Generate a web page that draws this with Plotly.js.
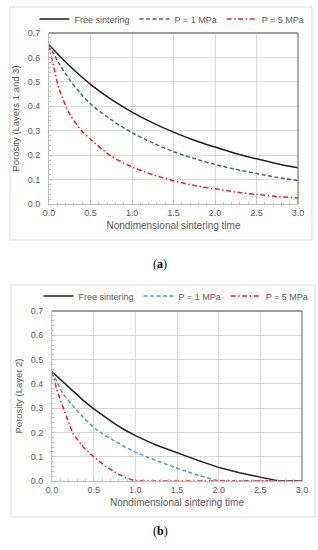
<!DOCTYPE html>
<html><head><meta charset="utf-8">
<script src="https://cdn.plot.ly/plotly-3.0.1.min.js"></script>
<style>html,body{margin:0;padding:0;background:#fff;}#chart{width:318px;height:550px;}</style>
</head><body><div id="chart"></div>
<script>
// ---- data ----
const seriesNames = ['Free sintering', 'P = 1 MPa', 'P = 5 MPa'];
const xTickVals = [0, 0.5, 1.0, 1.5, 2.0, 2.5, 3.0];
const yTickVals = [0, 0.1, 0.2, 0.3, 0.4, 0.5, 0.6, 0.7];

// (a) Layers 1 and 3
const timeA = [0, 0.125, 0.25, 0.375, 0.5, 0.75, 1.0, 1.25, 1.5, 1.75, 2.0, 2.25, 2.5, 2.75, 3.0];
const freeA = [0.652, 0.607, 0.565, 0.526, 0.49, 0.428, 0.376, 0.332, 0.294, 0.261, 0.233, 0.207, 0.185, 0.165, 0.148];
const p1A   = [0.652, 0.573, 0.508, 0.455, 0.41, 0.345, 0.292, 0.25, 0.214, 0.186, 0.162, 0.142, 0.125, 0.109, 0.096];
const p5A   = [0.652, 0.468, 0.368, 0.307, 0.265, 0.196, 0.152, 0.12, 0.095, 0.076, 0.062, 0.049, 0.039, 0.031, 0.025];

// (b) Layer 2
const timeFreeB = [0, 0.125, 0.25, 0.375, 0.5, 0.625, 0.75, 0.875, 1.0, 1.25, 1.5, 1.75, 2.0, 2.25, 2.5, 2.72, 3.0];
const freeB     = [0.45, 0.41, 0.37, 0.332, 0.297, 0.265, 0.236, 0.21, 0.187, 0.148, 0.116, 0.085, 0.056, 0.034, 0.016, 0.0, 0.0];
const timeP1B   = [0, 0.125, 0.25, 0.375, 0.5, 0.625, 0.75, 0.875, 1.0, 1.25, 1.5, 1.75, 2.0, 3.0];
const p1B       = [0.45, 0.362, 0.31, 0.262, 0.22, 0.19, 0.165, 0.14, 0.119, 0.084, 0.053, 0.024, 0.0, 0.0];
const timeP5B   = [0, 0.0625, 0.125, 0.25, 0.375, 0.5, 0.625, 0.75, 0.875, 1.0, 3.0];
const p5B       = [0.45, 0.37, 0.31, 0.196, 0.14, 0.1, 0.065, 0.037, 0.015, 0.0, 0.0];

// ---- styling ----
const W = 318, H = 550;
const px = v => v / W, py = v => 1 - v / H;
const txt = '#595959';
const font = 'Liberation Sans, Arial, sans-serif';

function trace(x, y, name, color, dash, xa, ya, legend, shape) {
  return {x, y, name, type: 'scatter', mode: 'lines', xaxis: xa, yaxis: ya, legend,
    line: {color, width: 1.5, dash, shape, smoothing: 0.8}, hoverinfo: 'skip'};
}
const dashB = '4px,2.5px';
const dashDot = '5px,2.5px,1.5px,2.5px';
const data = [
  trace(timeA, freeA, seriesNames[0], '#1f1f1f', 'solid', 'x', 'y', 'legend', 'spline'),
  trace(timeA, p1A, seriesNames[1], '#3f6694', dashB, 'x', 'y', 'legend', 'spline'),
  trace(timeA, p5A, seriesNames[2], '#ff1a1a', dashDot, 'x', 'y', 'legend', 'spline'),
  trace(timeFreeB, freeB, seriesNames[0], '#1f1f1f', 'solid', 'x2', 'y2', 'legend2', 'linear'),
  trace(timeP1B, p1B, seriesNames[1], '#4a9be0', dashB, 'x2', 'y2', 'legend2', 'linear'),
  trace(timeP5B, p5B, seriesNames[2], '#ff1a1a', dashDot, 'x2', 'y2', 'legend2', 'linear'),
];

function xAxis(domain, anchor) {
  return {domain, anchor, range: [0, 3], tickvals: xTickVals, tickformat: '.1f',
    showgrid: true, gridcolor: '#d9d9d9', gridwidth: 1, zeroline: false,
    showline: true, linecolor: '#bfbfbf', linewidth: 1,
    ticks: 'inside', ticklen: 3, tickcolor: '#bfbfbf',
    minor: {dtick: 0.1, ticks: 'inside', ticklen: 2, tickcolor: '#bfbfbf', showgrid: false},
    tickfont: {family: font, size: 9, color: txt},
    title: {text: 'Nondimensional sintering time', font: {family: font, size: 10, color: txt}, standoff: 5},
    fixedrange: true};
}
function yAxis(domain, anchor, title) {
  return {domain, anchor, range: [0, 0.7], tickvals: yTickVals, tickformat: '.1f',
    showgrid: true, gridcolor: '#d9d9d9', gridwidth: 1, zeroline: false,
    showline: true, linecolor: '#bfbfbf', linewidth: 1,
    ticks: 'inside', ticklen: 3, tickcolor: '#bfbfbf', ticklabelstandoff: 6,
    minor: {dtick: 0.02, ticks: 'inside', ticklen: 2, tickcolor: '#bfbfbf', showgrid: false},
    tickfont: {family: font, size: 9, color: txt},
    title: {text: title, font: {family: font, size: 9.5, color: txt}, standoff: 6},
    fixedrange: true};
}

const frame = (x0, y0, x1, y1) => ({type: 'rect', xref: 'paper', yref: 'paper',
  x0: px(x0), x1: px(x1), y0: py(y1), y1: py(y0), line: {color: '#d9d9d9', width: 1}, fillcolor: 'rgba(0,0,0,0)', layer: 'below'});
const border = (xa, ya) => ([
  {type: 'line', xref: xa + ' domain', yref: ya + ' domain', x0: 0, x1: 1, y0: 1, y1: 1, line: {color: '#7f7f7f', width: 1.3}},
  {type: 'line', xref: xa + ' domain', yref: ya + ' domain', x0: 1, x1: 1, y0: 0, y1: 1, line: {color: '#7f7f7f', width: 1.3}},
]);

const legendStyle = (x, y) => ({orientation: 'h', x, y, xanchor: 'center', yanchor: 'middle',
  font: {family: font, size: 9, color: txt}, bgcolor: 'rgba(0,0,0,0)', borderwidth: 0,
  itemwidth: 30, tracegroupgap: 0, itemclick: false, itemdoubleclick: false});

const layout = {
  width: W, height: H, margin: {l: 0, r: 0, t: 0, b: 0},
  paper_bgcolor: '#ffffff', plot_bgcolor: '#ffffff', showlegend: true,
  xaxis: xAxis([px(49), px(298)], 'y'),
  yaxis: yAxis([py(204), py(33)], 'x', 'Porosity (Layers 1 and 3)'),
  xaxis2: xAxis([px(52), px(302)], 'y2'),
  yaxis2: yAxis([py(481), py(311)], 'x2', 'Porosity (Layer 2)'),
  legend: legendStyle(px(172), py(19)),
  legend2: legendStyle(px(176), py(296)),
  shapes: [frame(10, 7, 312, 240), frame(11, 285, 315, 517), ...border('x', 'y'), ...border('x2', 'y2')],
  annotations: [
    {text: '(<b>a</b>)', xref: 'paper', yref: 'paper', x: px(160), y: py(264), showarrow: false,
      font: {family: 'Liberation Serif, Times New Roman, serif', size: 12, color: '#000'}},
    {text: '(<b>b</b>)', xref: 'paper', yref: 'paper', x: px(160), y: py(540), showarrow: false,
      font: {family: 'Liberation Serif, Times New Roman, serif', size: 12, color: '#000'}},
  ],
};

Plotly.newPlot('chart', data, layout, {staticPlot: true, displayModeBar: false});
</script>
</body></html>
